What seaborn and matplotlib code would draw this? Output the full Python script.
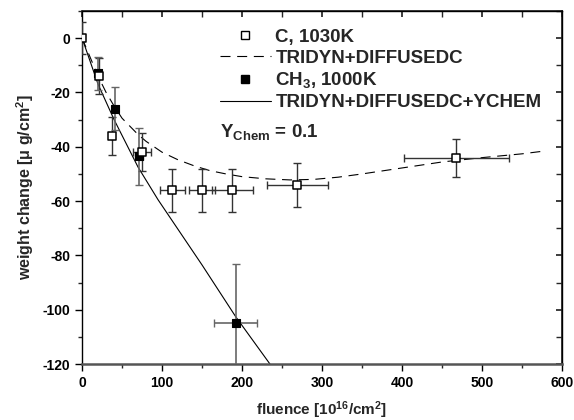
import numpy as np
import pandas as pd
import matplotlib
matplotlib.use("Agg")
import matplotlib.pyplot as plt
from matplotlib.lines import Line2D
import seaborn as sns

# C, 1030K (open squares)
c_x = [0, 21, 38, 75, 113, 150, 188, 269, 468]
c_y = [0, -14, -36, -42, -56, -56, -56, -54, -44]
c_xerr = [0, 0, 0, 11, 16, 16, 26, 38, 66]
c_yerr = [6, 6.5, 7, 7, 8, 8, 8, 8, 7]

# CH3, 1000K (filled squares)
ch3_x = [20, 41, 71, 192]
ch3_y = [-13, -26, -43.5, -105]
ch3_xerr = [0, 0, 5, 27]
ch3_yerr = [6, 8, 10.5, 22]

# TRIDYN+DIFFUSEDC (dashed)
dif_x = [0, 10, 20, 30, 40, 50, 60, 70, 80, 90, 100, 120, 140, 160, 180, 200,
         230, 260, 290, 320, 350, 400, 450, 500, 550, 580]
dif_y = [0, -7, -14, -20, -25, -29.5, -32.5, -35.5, -38, -40, -42, -44.8, -47,
         -48.8, -50, -51, -51.8, -52.2, -52, -51.2, -50, -47.8, -45.6, -44, -42.6, -41.5]

# TRIDYN+DIFFUSEDC+YCHEM (solid)
ych_x = [0, 10, 20, 40, 70, 95, 150, 192, 235]
ych_y = [0, -8.5, -17, -30, -47.5, -59.5, -83.5, -102.5, -120]

sns.set_theme(style="ticks")
plt.rcParams['font.family'] = ['Liberation Sans', 'DejaVu Sans']
plt.rcParams['font.weight'] = 'bold'
plt.rcParams['axes.unicode_minus'] = False
plt.rcParams['mathtext.fontset'] = 'custom'
plt.rcParams['mathtext.rm'] = 'Liberation Sans:bold'
plt.rcParams['mathtext.bf'] = 'Liberation Sans:bold'
plt.rcParams['mathtext.it'] = 'Liberation Sans:bold'

fig = plt.figure(figsize=(5.74, 4.2), dpi=100)
ax = fig.add_axes([0.143, 0.133, 0.836, 0.841])

dash = (0, (9, 6))
dif_df = pd.DataFrame({"x": dif_x, "y": dif_y})
ych_df = pd.DataFrame({"x": ych_x, "y": ych_y})
sns.lineplot(data=dif_df, x="x", y="y", ax=ax, color="black", lw=0.8,
             sort=False, estimator=None)
ax.lines[-1].set_linestyle(dash)
sns.lineplot(data=ych_df, x="x", y="y", ax=ax, color="black", lw=0.8,
             sort=False, estimator=None)

ax.errorbar(c_x, c_y, xerr=c_xerr, yerr=c_yerr, fmt='none', ecolor='#333333',
            elinewidth=1.0, capsize=3, capthick=1.0, zorder=3)
ax.errorbar(ch3_x, ch3_y, xerr=ch3_xerr, yerr=ch3_yerr, fmt='none', ecolor='#666666',
            elinewidth=1.2, capsize=3, capthick=1.0, zorder=3)
sns.scatterplot(x=ch3_x, y=ch3_y, ax=ax, marker='s', s=32, color='black',
                edgecolor='black', linewidth=0.8, zorder=4)
sns.scatterplot(x=c_x, y=c_y, ax=ax, marker='s', s=30, facecolor='white',
                edgecolor='black', linewidth=1.1, zorder=5)

ax.set_xlim(0, 600)
ax.set_ylim(-120, 10)
ax.set_xticks(np.arange(0, 601, 100))
ax.set_xticks(np.arange(0, 601, 50), minor=True)
ax.set_yticks(np.arange(-120, 1, 20))
ax.set_yticks(np.arange(-120, 11, 10), minor=True)
ax.tick_params(which='major', direction='out', length=5, width=1, labelsize=10,
               colors='black')
ax.tick_params(which='minor', direction='out', length=3, width=1)
for lab in ax.get_xticklabels() + ax.get_yticklabels():
    lab.set_fontweight('bold')

# mirrored inward ticks on top and right
top = ax.secondary_xaxis('top')
top.set_xticks(np.arange(0, 601, 100))
top.set_xticks(np.arange(0, 601, 50), minor=True)
top.tick_params(which='both', direction='in', length=4, labeltop=False)
right = ax.secondary_yaxis('right')
right.set_yticks(np.arange(-120, 1, 20))
right.set_yticks(np.arange(-120, 11, 10), minor=True)
right.tick_params(which='both', direction='in', length=4, labelright=False)

for sp in ax.spines.values():
    sp.set_linewidth(1.0)
    sp.set_color('black')
ax.spines['bottom'].set_linewidth(1.8)
ax.spines['bottom'].set_color('#555555')

ax.set_xlabel(r'fluence [10$^{16}$/cm$^{2}$]', fontsize=11, fontweight='bold', labelpad=7)
ax.set_ylabel(u'weight change [\u03bc g/cm$^{2}$]', fontsize=11.5, fontweight='bold', labelpad=5)

handles = [
    Line2D([], [], ls='none', marker='s', markersize=5.5, markerfacecolor='white',
           markeredgecolor='black'),
    Line2D([], [], ls=dash, color='black', lw=0.8),
    Line2D([], [], ls='none', marker='s', markersize=5.5, markerfacecolor='black',
           markeredgecolor='black'),
    Line2D([], [], ls='-', color='black', lw=0.8),
]
labels = ['C, 1030K', 'TRIDYN+DIFFUSEDC', r'CH$_{3}$, 1000K', 'TRIDYN+DIFFUSEDC+YCHEM']
ax.legend(handles, labels, loc='upper left', bbox_to_anchor=(0.2875, 0.95), frameon=False,
          prop={'weight': 'bold', 'size': 13.5}, handlelength=2.7, handletextpad=0.25,
          labelspacing=0.2, borderaxespad=0, borderpad=0)
ax.text(0.2875, 0.643, r'Y$_{\mathrm{Chem}}$ = 0.1', transform=ax.transAxes,
        fontsize=13.5, fontweight='bold', va='baseline')

fig.savefig('out.png', dpi=100)
